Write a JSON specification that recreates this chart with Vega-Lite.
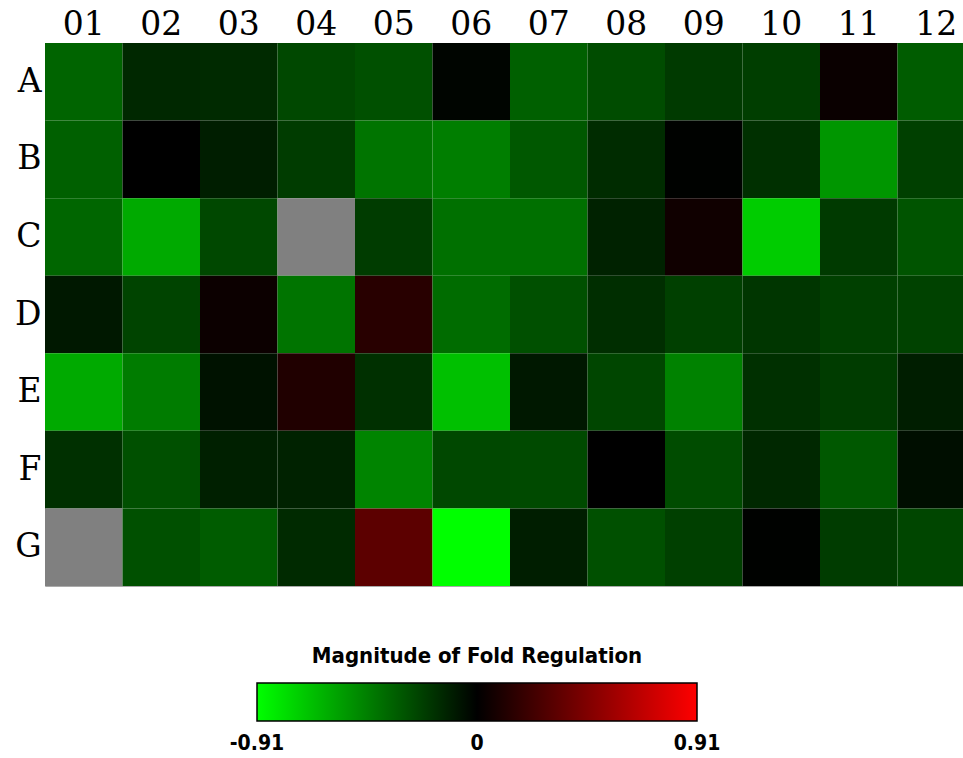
{
"$schema": "https://vega.github.io/schema/vega-lite/v6.json",
"autosize": "none",
"width": 930, "height": 543,
"padding": {"left": 45, "top": 43, "right": 0, "bottom": 172},
"background": "white",
"config": {"view": {"stroke": "#aaaaaa", "strokeWidth": 1}},
"data": {"values": [
{"r":"A","c":"01","v":-0.357},{"r":"A","c":"02","v":-0.143},{"r":"A","c":"03","v":-0.150},{"r":"A","c":"04","v":-0.257},{"r":"A","c":"05","v":-0.285},{"r":"A","c":"06","v":-0.018},{"r":"A","c":"07","v":-0.343},{"r":"A","c":"08","v":-0.271},{"r":"A","c":"09","v":-0.207},{"r":"A","c":"10","v":-0.221},{"r":"A","c":"11","v":0.036},{"r":"A","c":"12","v":-0.328},
{"r":"B","c":"01","v":-0.343},{"r":"B","c":"02","v":0.0},{"r":"B","c":"03","v":-0.107},{"r":"B","c":"04","v":-0.214},{"r":"B","c":"05","v":-0.414},{"r":"B","c":"06","v":-0.450},{"r":"B","c":"07","v":-0.314},{"r":"B","c":"08","v":-0.157},{"r":"B","c":"09","v":-0.007},{"r":"B","c":"10","v":-0.171},{"r":"B","c":"11","v":-0.535},{"r":"B","c":"12","v":-0.228},
{"r":"C","c":"01","v":-0.364},{"r":"C","c":"02","v":-0.607},{"r":"C","c":"03","v":-0.257},{"r":"C","c":"04","v":null},{"r":"C","c":"05","v":-0.214},{"r":"C","c":"06","v":-0.400},{"r":"C","c":"07","v":-0.400},{"r":"C","c":"08","v":-0.121},{"r":"C","c":"09","v":0.057},{"r":"C","c":"10","v":-0.728},{"r":"C","c":"11","v":-0.207},{"r":"C","c":"12","v":-0.300},
{"r":"D","c":"01","v":-0.086},{"r":"D","c":"02","v":-0.243},{"r":"D","c":"03","v":0.043},{"r":"D","c":"04","v":-0.414},{"r":"D","c":"05","v":0.143},{"r":"D","c":"06","v":-0.385},{"r":"D","c":"07","v":-0.285},{"r":"D","c":"08","v":-0.164},{"r":"D","c":"09","v":-0.228},{"r":"D","c":"10","v":-0.193},{"r":"D","c":"11","v":-0.228},{"r":"D","c":"12","v":-0.236},
{"r":"E","c":"01","v":-0.607},{"r":"E","c":"02","v":-0.443},{"r":"E","c":"03","v":-0.064},{"r":"E","c":"04","v":0.114},{"r":"E","c":"05","v":-0.171},{"r":"E","c":"06","v":-0.685},{"r":"E","c":"07","v":-0.086},{"r":"E","c":"08","v":-0.250},{"r":"E","c":"09","v":-0.464},{"r":"E","c":"10","v":-0.171},{"r":"E","c":"11","v":-0.214},{"r":"E","c":"12","v":-0.107},
{"r":"F","c":"01","v":-0.171},{"r":"F","c":"02","v":-0.285},{"r":"F","c":"03","v":-0.114},{"r":"F","c":"04","v":-0.121},{"r":"F","c":"05","v":-0.471},{"r":"F","c":"06","v":-0.257},{"r":"F","c":"07","v":-0.264},{"r":"F","c":"08","v":0.0},{"r":"F","c":"09","v":-0.271},{"r":"F","c":"10","v":-0.143},{"r":"F","c":"11","v":-0.314},{"r":"F","c":"12","v":-0.050},
{"r":"G","c":"01","v":null},{"r":"G","c":"02","v":-0.285},{"r":"G","c":"03","v":-0.328},{"r":"G","c":"04","v":-0.150},{"r":"G","c":"05","v":0.328},{"r":"G","c":"06","v":-0.91},{"r":"G","c":"07","v":-0.107},{"r":"G","c":"08","v":-0.285},{"r":"G","c":"09","v":-0.228},{"r":"G","c":"10","v":-0.007},{"r":"G","c":"11","v":-0.214},{"r":"G","c":"12","v":-0.250}
]},
"mark": {"type": "rect", "invalid": "show"},
"encoding": {
"x": {"field": "c", "type": "ordinal", "scale": {"paddingInner": 0, "paddingOuter": 0},
 "axis": {"orient": "top", "title": null, "domain": false, "ticks": false, "labelAngle": 0, "labelFont": "DejaVu Serif", "labelFontSize": 33, "labelColor": "black", "labelPadding": 2}},
"y": {"field": "r", "type": "ordinal", "scale": {"paddingInner": 0, "paddingOuter": 0},
 "axis": {"title": null, "domain": false, "ticks": false, "labelFont": "DejaVu Serif", "labelFontSize": 33, "labelColor": "black", "labelPadding": 4}},
"color": {"condition": {"test": "datum.v === null", "value": "#808080"},
 "field": "v", "type": "quantitative",
 "scale": {"domain": [-0.91, 0, 0.91], "range": ["#00ff00", "#000000", "#ff0000"], "interpolate": "rgb"},
 "legend": {"orient": "none", "legendX": 212, "legendY": 603, "direction": "horizontal",
  "gradientLength": 440, "gradientThickness": 38, "gradientStrokeColor": "black", "gradientStrokeWidth": 1.5,
  "title": "Magnitude of Fold Regulation", "titleFont": "DejaVu Sans Condensed", "titleFontWeight": "bold", "titleFontSize": 22, "titleColor": "black", "titleAnchor": "middle", "titlePadding": 15, "titleLimit": 800,
  "values": [-0.91, 0, 0.91], "labelExpr": "replace(format(datum.value, datum.value == 0 ? 'd' : '.2f'), '\u2212', '-')",
  "labelFont": "DejaVu Sans Condensed", "labelFontWeight": "bold", "labelFontSize": 21, "labelColor": "black", "labelOffset": 12, "labelOverlap": false,
  "encode": {"labels": {"update": {"align": {"value": "center"}}}}}}
}
}
